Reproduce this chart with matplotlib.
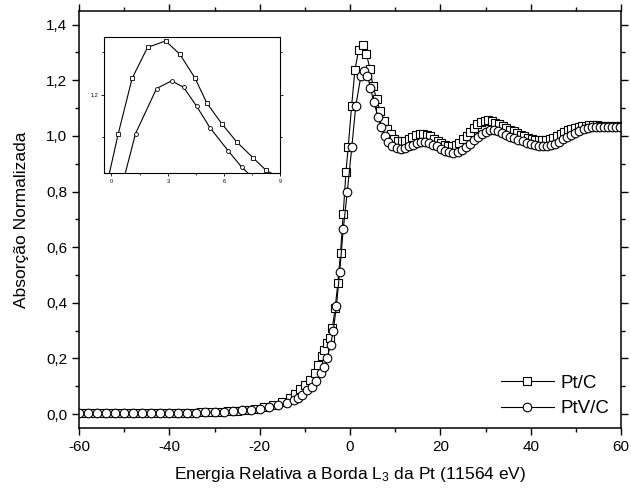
import matplotlib
matplotlib.use("Agg")
import matplotlib.pyplot as plt
from matplotlib.ticker import MultipleLocator, FuncFormatter

plt.rcParams["font.family"] = ["Liberation Sans", "DejaVu Sans"]
plt.rcParams["mathtext.fontset"] = "custom"
plt.rcParams["mathtext.rm"] = "Liberation Sans"
plt.rcParams["mathtext.it"] = "Liberation Sans:italic"
plt.rcParams["axes.unicode_minus"] = False

# Pt/C (squares)
pt_x = [-59, -57, -55, -53, -51, -49, -47, -45, -43, -41, -39, -37, -35, -33,
        -31, -29, -27, -25, -23, -21, -19, -17, -15, -13.3, -12.2, -11.0, -9.9,
        -8.8, -7.7, -7.0, -6.3, -5.7, -5.1, -4.5, -3.9, -3.3, -2.7, -2.1, -1.5,
        -0.9, -0.4, 0.35, 1.10, 1.92, 2.88, 3.64, 4.44, 5.08, 5.89, 6.66, 7.55,
        8.24, 9.0, 9.8, 10.6, 11.4, 12.2, 13.0, 13.8, 14.6, 15.4, 16.2, 17.0,
        17.8, 18.6, 19.4, 20.2, 21.0, 21.8, 22.6, 23.4, 24.2, 25.0, 25.8, 26.6,
        27.4, 28.2, 29.0, 29.8, 30.6, 31.4, 32.2, 33.0, 33.8, 34.6, 35.4, 36.2,
        37.0, 37.8, 38.6, 39.4, 40.2, 41.0, 41.8, 42.6, 43.4, 44.2, 45.0, 45.8,
        46.6, 47.4, 48.2, 49.0, 49.8, 50.6, 51.4, 52.2, 53.0, 53.8, 54.6, 55.4,
        56.2, 57.0, 57.8, 58.6, 59.4]
pt_y = [0.004, 0.004, 0.004, 0.004, 0.004, 0.004, 0.004, 0.004, 0.004, 0.005,
        0.005, 0.005, 0.005, 0.006, 0.006, 0.008, 0.010, 0.012, 0.015, 0.019,
        0.024, 0.031, 0.042, 0.057, 0.072, 0.090, 0.105, 0.123, 0.147, 0.175,
        0.207, 0.230, 0.255, 0.275, 0.310, 0.380, 0.470, 0.580, 0.720, 0.870,
        0.960, 1.107, 1.238, 1.310, 1.325, 1.294, 1.239, 1.180, 1.131, 1.090,
        1.052, 1.023, 1.005, 0.990, 0.982, 0.980, 0.983, 0.990, 0.997, 1.002,
        1.005, 1.006, 1.004, 0.998, 0.990, 0.982, 0.974, 0.968, 0.965, 0.964,
        0.967, 0.975, 0.988, 1.000, 1.015, 1.030, 1.042, 1.050, 1.055, 1.056,
        1.053, 1.048, 1.042, 1.035, 1.028, 1.022, 1.016, 1.010, 1.004, 0.998,
        0.993, 0.989, 0.986, 0.985, 0.985, 0.986, 0.989, 0.994, 1.000, 1.007,
        1.014, 1.020, 1.026, 1.030, 1.033, 1.035, 1.037, 1.038, 1.038, 1.038,
        1.037, 1.037, 1.036, 1.036, 1.036, 1.035]

# PtV/C (circles)
ptv_x = [-60, -58, -56, -54, -52, -50, -48, -46, -44, -42, -40, -38, -36, -34,
         -32, -30, -28, -26, -24, -22, -20, -18, -16, -14.0, -12.5, -11.6,
         -10.7, -9.6, -8.5, -7.5, -6.5, -5.7, -5.1, -4.3, -3.7, -3.0, -2.3,
         -1.5, -0.6, 0.4, 1.28, 2.40, 3.20, 3.84, 4.53, 5.24, 6.21, 6.93, 7.7,
         8.5, 9.4, 10.3, 11.2, 12.1, 13.0, 13.9, 14.8, 15.7, 16.6, 17.5, 18.4,
         19.3, 20.2, 21.1, 22.0, 22.9, 23.8, 24.7, 25.6, 26.5, 27.4, 28.3, 29.2,
         30.1, 31.0, 31.9, 32.8, 33.7, 34.6, 35.5, 36.4, 37.3, 38.2, 39.1, 40.0,
         40.9, 41.8, 42.7, 43.6, 44.5, 45.4, 46.3, 47.2, 48.1, 49.0, 49.9, 50.8,
         51.7, 52.6, 53.5, 54.4, 55.3, 56.2, 57.1, 58.0, 58.9, 59.8]
ptv_y = [0.003, 0.003, 0.003, 0.003, 0.003, 0.004, 0.004, 0.004, 0.004, 0.004,
         0.004, 0.004, 0.005, 0.005, 0.006, 0.007, 0.009, 0.010, 0.013, 0.015,
         0.018, 0.025, 0.031, 0.039, 0.049, 0.058, 0.070, 0.085, 0.099, 0.118,
         0.147, 0.169, 0.200, 0.249, 0.300, 0.390, 0.510, 0.664, 0.800, 0.960,
         1.109, 1.214, 1.232, 1.217, 1.173, 1.123, 1.069, 1.031, 0.999, 0.978,
         0.965, 0.957, 0.954, 0.956, 0.962, 0.969, 0.975, 0.978, 0.978, 0.975,
         0.969, 0.962, 0.954, 0.947, 0.941, 0.939, 0.942, 0.950, 0.960, 0.972,
         0.984, 0.996, 1.007, 1.015, 1.020, 1.020, 1.016, 1.010, 1.004, 0.997,
         0.991, 0.985, 0.980, 0.976, 0.972, 0.968, 0.965, 0.963, 0.964, 0.967,
         0.972, 0.979, 0.987, 0.995, 1.004, 1.012, 1.019, 1.024, 1.028, 1.031,
         1.032, 1.033, 1.033, 1.033, 1.033, 1.032, 1.032]

comma = FuncFormatter(lambda v, p: ("%.1f" % v).replace(".", ","))

fig = plt.figure(figsize=(6.31, 4.95), dpi=100)
ax = fig.add_axes([0.1252, 0.1354, 0.859, 0.843])

ax.plot(pt_x, pt_y, color="black", lw=0.8, marker="s", ms=5.3, mfc="white",
        mec="black", mew=0.8, label="Pt/C")
ax.plot(ptv_x, ptv_y, color="black", lw=0.8, marker="o", ms=6.2, mfc="white",
        mec="black", mew=0.8, label="PtV/C")

ax.set_xlim(-60, 60)
ax.set_ylim(-0.05, 1.45)
ax.xaxis.set_major_locator(MultipleLocator(20))
ax.xaxis.set_minor_locator(MultipleLocator(10))
ax.yaxis.set_major_locator(MultipleLocator(0.2))
ax.yaxis.set_minor_locator(MultipleLocator(0.1))
ax.yaxis.set_major_formatter(comma)
ax.tick_params(which="both", direction="out", top=True, right=True, width=1,
               labelsize=11)
ax.tick_params(which="major", length=5)
ax.tick_params(which="minor", length=3)
for s in ax.spines.values():
    s.set_linewidth(1.1)

ax.set_xlabel("Energia Relativa a Borda L$_3$ da Pt (11564 eV)", fontsize=12.5,
              labelpad=8)
ax.set_ylabel("Absorção Normalizada", fontsize=12.5, labelpad=12)

ax.legend(loc="lower right", bbox_to_anchor=(0.978, 0.026), frameon=False,
          fontsize=13.5, handlelength=2.8, handletextpad=0.35,
          labelspacing=0.45, borderpad=0, borderaxespad=0)

# inset zoom on the white line
ins = fig.add_axes([0.1648, 0.6505, 0.2797, 0.2754])
ins.plot(pt_x, pt_y, color="black", lw=0.8, marker="s", ms=2.6, mfc="white",
         mec="black", mew=0.6)
ins.plot(ptv_x, ptv_y, color="black", lw=0.8, marker="o", ms=2.8, mfc="white",
         mec="black", mew=0.6)
ins.set_xlim(-0.4, 9)
ins.set_ylim(1.017, 1.335)
ins.xaxis.set_major_locator(MultipleLocator(3))
ins.xaxis.set_minor_locator(MultipleLocator(1.5))
ins.yaxis.set_major_locator(MultipleLocator(0.2))
ins.yaxis.set_minor_locator(MultipleLocator(0.1))
ins.yaxis.set_major_formatter(comma)
ins.tick_params(which="both", direction="out", labelsize=4, width=0.6,
                right=True, pad=2)
ins.tick_params(which="major", length=2.5)
ins.tick_params(which="minor", length=1.5)
for s in ins.spines.values():
    s.set_linewidth(0.8)

fig.savefig("out.png", dpi=100)
